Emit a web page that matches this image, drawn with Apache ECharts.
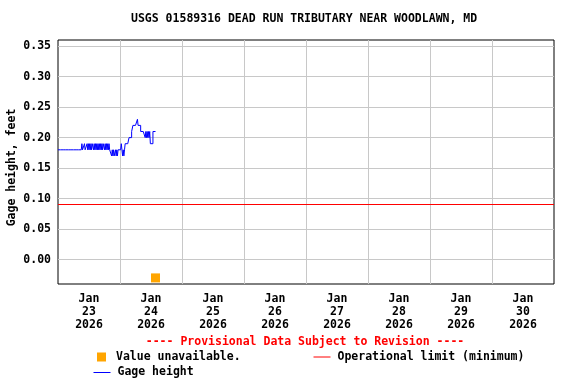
<!DOCTYPE html>
<html>
<head>
<meta charset="utf-8">
<script src="https://cdn.jsdelivr.net/npm/echarts@6/dist/echarts.min.js"></script>
<style>html,body{margin:0;padding:0;background:#fff}#c{width:576px;height:384px}</style>
</head>
<body>
<div id="c"></div>
<script>
// ---- data ----
var titleText = 'USGS 01589316 DEAD RUN TRIBUTARY NEAR WOODLAWN, MD';
var yName = 'Gage height, feet';
var startDay = Date.UTC(2026, 0, 23);   // Jan 23 2026 00:00
var endDay = Date.UTC(2026, 0, 31);     // Jan 31 2026 00:00
var sampleStepMs = 15 * 60 * 1000;      // 15-minute readings
var labelMonths = ['Jan','Jan','Jan','Jan','Jan','Jan','Jan','Jan'];
var labelDays = ['23','24','25','26','27','28','29','30'];
var labelYears = ['2026','2026','2026','2026','2026','2026','2026','2026'];
// gage height readings (feet), every 15 min from Jan 23 00:00
var gageHeight = [
  .18,.18,.18,.18,.18,.18,.18,.18,.18,.18,.18,.18,.18,.18,.18,.18,.18,.18,.18,.18,
  .18,.18,.18,.18,.18,.18,.18,.18,.18,.18,.18,.18,.18,.18,.18,.18,.18,
  .19,.18,.18,.18,.19,.18,.18,.18,.19,.18,
  .19,.18,.19,.18,.19,.18,.19,.19,.18,.19,.18,.19,.18,.19,.18,.19,.18,
  .19,.18,.19,.18,.19,.18,.19,.19,.18,.19,.18,.19,.18,.19,.18,.19,
  .18,.18,.18,
  .17,.18,.17,.18,.17,.17,.18,.17,.18,.17,.18,
  .18,.18,.18,
  .18,.19,.18,
  .17,.18,.17,
  .18,
  .19,.19,.19,.19,.19,.19,
  .20,.20,.20,.20,
  .21,.21,
  .22,.22,.22,.22,.22,.22,.22,
  .23,
  .22,.22,.22,.22,
  .21,.21,.21,.21,.21,.21,.21,
  .20,.21,.20,.21,.20,.21,.20,.21,
  .19,.19,.19,.19,
  .21,.21,.21,.21,.21
];
var unavailableTime = Date.UTC(2026, 0, 24, 13, 45);
var unavailableMarkerValue = -0.03;
var operationalLimit = 0.09;
var provisionalText = '---- Provisional Data Subject to Revision ----';

// ---- build ----
var gageData = gageHeight.map(function (v, i) { return [startDay + i * sampleStepMs, v]; });
var dayLabels = labelDays.map(function (d, i) { return labelMonths[i] + '\n' + d + '\n' + labelYears[i]; });
var FONT = 'DejaVu Sans Mono';
var FS = 11.5;

var chart = echarts.init(document.getElementById('c'), null, {renderer: 'canvas'});
chart.setOption({
  animation: false,
  backgroundColor: '#ffffff',
  textStyle: {fontFamily: FONT, fontWeight: 'bold', fontSize: FS, color: '#000'},
  title: {
    text: titleText, left: 131, top: 13, padding: 0,
    textStyle: {fontFamily: FONT, fontWeight: 'bold', fontSize: FS, color: '#000'}
  },
  grid: {left: 58, right: 22, top: 40, bottom: 100, containLabel: false, outerBoundsMode: 'none',
         show: true, borderColor: '#000', borderWidth: 1},
  xAxis: [{
    type: 'value', min: startDay, max: endDay, interval: 86400000,
    axisLine: {show: false}, axisTick: {show: false}, axisLabel: {show: false},
    splitLine: {show: true, showMinLine: false, showMaxLine: false, lineStyle: {color: '#c8c8c8', width: 1}}
  }, {
    type: 'category', data: dayLabels, boundaryGap: true, position: 'bottom',
    axisLine: {show: false}, axisTick: {show: false}, splitLine: {show: false},
    axisLabel: {interval: 0, margin: 9, fontFamily: FONT, fontWeight: 'bold', fontSize: FS,
                lineHeight: 12.7, color: '#000'}
  }],
  yAxis: {
    type: 'value', min: -0.04, max: 0.36, splitNumber: 8,
    axisLine: {show: false}, axisTick: {show: false},
    splitLine: {show: true, showMinLine: false, showMaxLine: false, lineStyle: {color: '#c8c8c8', width: 1}},
    axisLabel: {margin: 7, showMinLabel: false, showMaxLabel: false, fontFamily: FONT,
                fontWeight: 'bold', fontSize: FS, color: '#000',
                formatter: function (v) { return v.toFixed(2); }},
    name: yName, nameLocation: 'middle', nameGap: 40, nameRotate: 90, nameMoveOverlap: false,
    nameTextStyle: {fontFamily: FONT, fontWeight: 'bold', fontSize: FS, color: '#000', padding: [0, 11, 0, 0]}
  },
  legend: [{
    data: ['Value unavailable.'], left: 97, top: 351, padding: 0, selectedMode: false,
    icon: 'rect', itemWidth: 9, itemHeight: 9,
    textStyle: {fontFamily: FONT, fontWeight: 'bold', fontSize: FS, color: '#000', padding: [0, 0, 0, 5]}
  }, {
    data: ['Operational limit (minimum)'], left: 313, top: 351, padding: 0, selectedMode: false,
    itemWidth: 17, itemHeight: 9, itemStyle: {opacity: 0}, lineStyle: {width: 1},
    textStyle: {fontFamily: FONT, fontWeight: 'bold', fontSize: FS, color: '#000', padding: [0, 0, 0, 2]}
  }, {
    data: ['Gage height'], left: 93, top: 366.5, padding: 0, selectedMode: false,
    itemWidth: 17, itemHeight: 9, itemStyle: {opacity: 0}, lineStyle: {width: 1},
    textStyle: {fontFamily: FONT, fontWeight: 'bold', fontSize: FS, color: '#000', padding: [0, 0, 0, 2]}
  }],
  graphic: [{
    type: 'text', x: 305, y: 342.5,
    style: {text: provisionalText, fill: '#ff0000', font: 'bold ' + FS + 'px "' + FONT + '"',
            align: 'center', verticalAlign: 'middle'}
  }],
  series: [{
    name: 'Gage height', type: 'line', xAxisIndex: 0, data: gageData, step: 'end',
    showSymbol: false, symbol: 'none', color: '#0000ff',
    lineStyle: {color: '#0000ff', width: 1}, z: 3
  }, {
    name: 'Value unavailable.', type: 'scatter', xAxisIndex: 0,
    data: [[unavailableTime, unavailableMarkerValue]],
    symbol: 'rect', symbolSize: 9, color: '#ffa500', itemStyle: {color: '#ffa500', opacity: 1}, z: 4
  }, {
    name: 'Operational limit (minimum)', type: 'line', xAxisIndex: 0, data: [],
    symbol: 'none', color: '#ff0000', lineStyle: {color: '#ff0000', width: 1},
    markLine: {silent: true, symbol: 'none', label: {show: false},
               lineStyle: {color: '#ff0000', width: 1, type: 'solid'},
               data: [{yAxis: operationalLimit}]}, z: 2
  }]
});
</script>
</body>
</html>
